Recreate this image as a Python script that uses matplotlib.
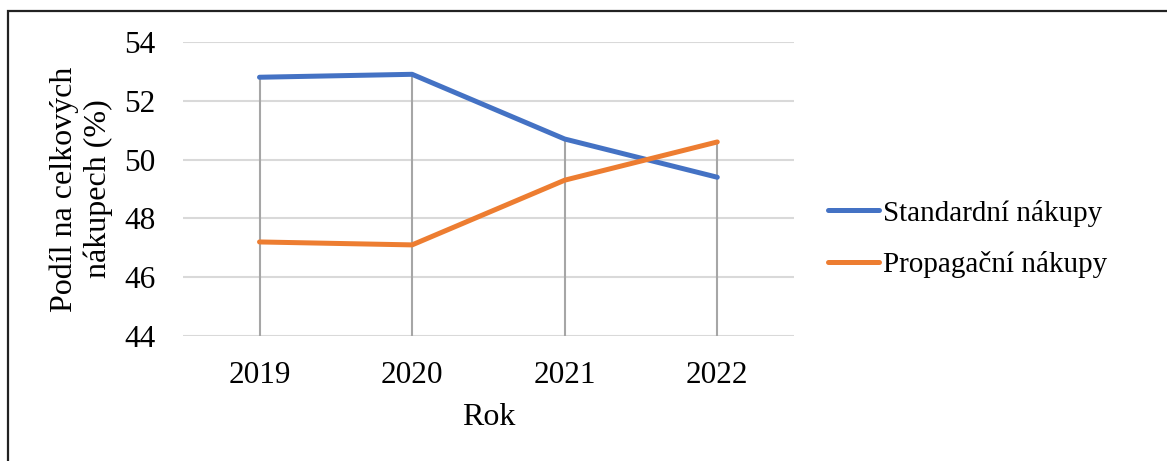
import matplotlib.pyplot as plt
from matplotlib.patches import Rectangle
import numpy as np

# ----- DATA -----
years = ['2019', '2020', '2021', '2022']
standardni = [52.8, 52.9, 50.7, 49.4]
propagacni = [47.2, 47.1, 49.3, 50.6]
y_ticks = [44, 46, 48, 50, 52, 54]

plt.rcParams['font.family'] = ['Liberation Serif', 'DejaVu Serif']

fig = plt.figure(figsize=(11.67, 4.61), dpi=100)
ax = fig.add_axes([0.157, 0.271, 0.523, 0.638])

x = np.arange(len(years))

# gridlines + drop lines (Excel style)
for t in y_ticks:
    ax.axhline(t, color='#d9d9d9', lw=1.5, zorder=0)
top = np.maximum(standardni, propagacni)
ax.vlines(x, y_ticks[0], top, color='#a6a6a6', lw=1.5, zorder=1)

ax.plot(x, standardni, color='#4472c4', lw=3.6, solid_capstyle='round',
        label='Standardní nákupy', zorder=3)
ax.plot(x, propagacni, color='#ed7d31', lw=3.6, solid_capstyle='round',
        label='Propagační nákupy', zorder=3)

ax.set_xlim(-0.5, 3.5)
ax.set_ylim(44, 54)
ax.set_xticks(x, years)
ax.set_yticks(y_ticks)
ax.tick_params(length=0, labelsize=22.5)
ax.tick_params(axis='y', pad=20)
ax.tick_params(axis='x', pad=18)
for s in ax.spines.values():
    s.set_visible(False)

ax.set_xlabel('Rok', fontsize=23, labelpad=9)
ax.set_ylabel('Podíl na celkových\nnákupech (%)', fontsize=23, labelpad=8,
              linespacing=1.2)

ax.legend(loc='center left', bbox_to_anchor=(1.056, 0.33), frameon=False,
          fontsize=21, handlelength=1.75, handletextpad=0.15, labelspacing=0.85,
          borderpad=0, borderaxespad=0)

# outer border
fig.patches.append(Rectangle((8 / 1167, -0.1), 1.2, (461 - 11) / 461 + 0.1,
                             transform=fig.transFigure, fill=False,
                             edgecolor='#222222', lw=1.6))

fig.savefig('out.png', dpi=100)
